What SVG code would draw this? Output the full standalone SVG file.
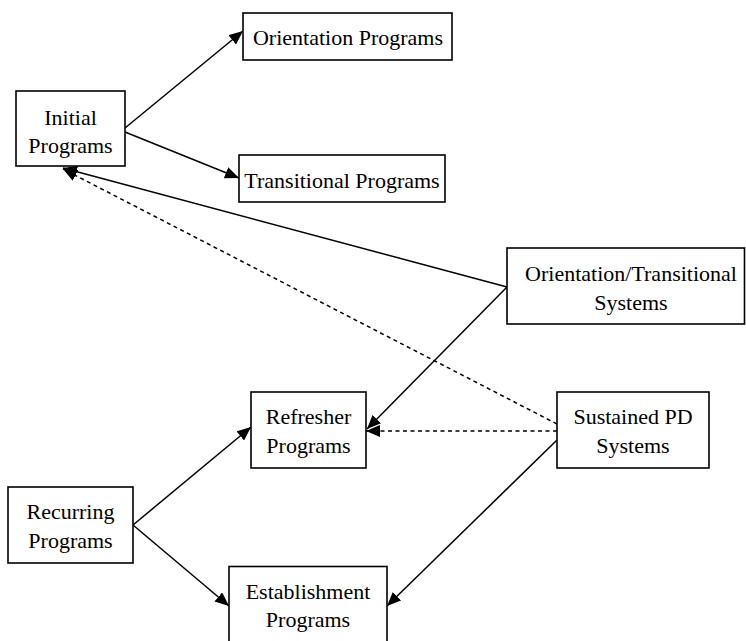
<svg xmlns="http://www.w3.org/2000/svg" width="746" height="641" viewBox="0 0 746 641">
  <style>
    .box { fill: #ffffff; stroke: #000000; stroke-width: 1.6; }
    .lbl { font-family: "Liberation Serif", "Times New Roman", serif; font-size: 22px; fill: #000000; text-anchor: middle; }
    .edge { fill: none; stroke: #000000; stroke-width: 1.5; marker-end: url(#arrow); }
    .dash { stroke-dasharray: 4 3.5; }
  </style>
  <defs>
    <marker id="arrow" markerUnits="userSpaceOnUse" markerWidth="14" markerHeight="12" refX="14" refY="6" orient="auto">
      <path d="M0,0 L14,6 L0,12 z" fill="#000000"/>
    </marker>
  </defs>
  <rect width="746" height="641" fill="#ffffff"/>

  <g id="connectors">
    <line class="edge" x1="125" y1="128" x2="243" y2="31"/>
    <line class="edge" x1="125" y1="132" x2="239" y2="178"/>
    <line class="edge" x1="507" y1="287" x2="63" y2="168"/>
    <line class="edge" x1="507" y1="287" x2="367" y2="429"/>
    <line class="edge dash" x1="557" y1="424" x2="63" y2="169"/>
    <line class="edge dash" x1="557" y1="431" x2="366" y2="431"/>
    <line class="edge" x1="557" y1="440" x2="387" y2="606"/>
    <line class="edge" x1="133" y1="525" x2="251" y2="427"/>
    <line class="edge" x1="133" y1="525" x2="229" y2="606"/>
  </g>

  <g id="initial-programs">
    <rect class="box" x="16" y="91" width="109" height="75"/>
    <text class="lbl" x="70.5" y="125">Initial</text>
    <text class="lbl" x="70.5" y="153">Programs</text>
  </g>

  <g id="orientation-programs">
    <rect class="box" x="243" y="13" width="209" height="47"/>
    <text class="lbl" x="348" y="45">Orientation Programs</text>
  </g>

  <g id="transitional-programs">
    <rect class="box" x="239" y="155" width="206" height="47"/>
    <text class="lbl" x="342" y="188">Transitional Programs</text>
  </g>

  <g id="orientation-transitional-systems">
    <rect class="box" x="507" y="248" width="237.5" height="76"/>
    <text class="lbl" x="631" y="281">Orientation/Transitional</text>
    <text class="lbl" x="631" y="310">Systems</text>
  </g>

  <g id="sustained-pd-systems">
    <rect class="box" x="557" y="392" width="152" height="76"/>
    <text class="lbl" x="633" y="424">Sustained PD</text>
    <text class="lbl" x="633" y="453">Systems</text>
  </g>

  <g id="refresher-programs">
    <rect class="box" x="251" y="392" width="115" height="76"/>
    <text class="lbl" x="308.5" y="424">Refresher</text>
    <text class="lbl" x="308.5" y="453">Programs</text>
  </g>

  <g id="recurring-programs">
    <rect class="box" x="8" y="487" width="125" height="76"/>
    <text class="lbl" x="70.5" y="519">Recurring</text>
    <text class="lbl" x="70.5" y="548">Programs</text>
  </g>

  <g id="establishment-programs">
    <rect class="box" x="229" y="566.5" width="158" height="80"/>
    <text class="lbl" x="308" y="599">Establishment</text>
    <text class="lbl" x="308" y="627">Programs</text>
  </g>
</svg>
